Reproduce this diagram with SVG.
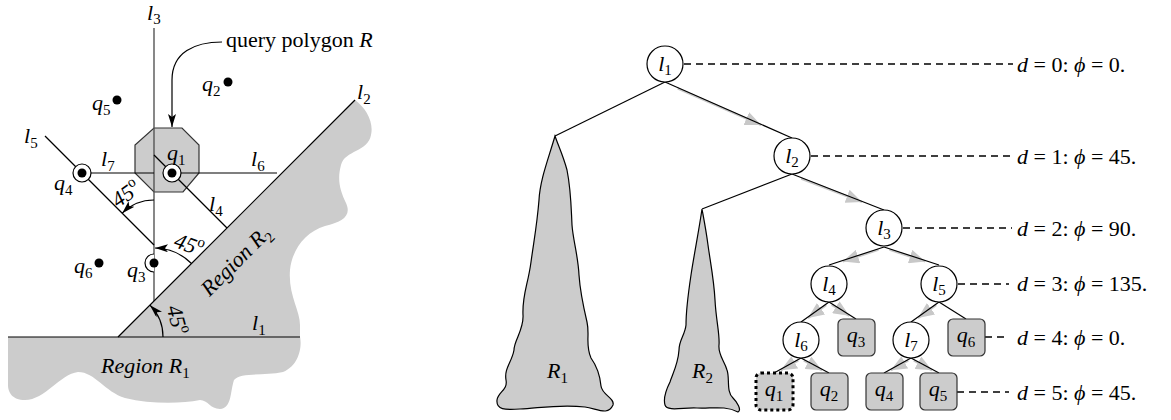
<svg xmlns="http://www.w3.org/2000/svg" width="1171" height="420" viewBox="0 0 1171 420">
<style>
text{font-family:"Liberation Serif","DejaVu Serif",serif;font-size:22px;fill:#000}
.it{font-style:italic}
.sub{font-size:15px;font-style:normal}
.region{fill:#ccc;stroke:none}
.ln{stroke:#000;stroke-width:1.2;fill:none}
.l3{stroke:#555;stroke-width:1.4;fill:none}
.edge{stroke:#000;stroke-width:1.2;fill:none}
.trav{stroke:#c8c8c8;stroke-width:2.2;fill:none;marker-end:url(#garrow)}
.node{fill:#fff;stroke:#000;stroke-width:1.2}
.leaf{fill:#ccc;stroke:#333;stroke-width:1.2}
.dash{stroke:#000;stroke-width:1.5;stroke-dasharray:7,5;fill:none}
.arc{stroke:#000;stroke-width:1.2;fill:none;marker-end:url(#barrow)}
.dot{fill:#000}
.ring{fill:#fff;stroke:#000;stroke-width:1.2}
</style>
<defs>
<marker id="garrow" markerUnits="userSpaceOnUse" markerWidth="16" markerHeight="14" viewBox="0 0 16 14" refX="16" refY="7" orient="auto">
<path d="M0,0 L16,7 L0,14 Z" fill="#c8c8c8"/>
</marker>
<marker id="barrow" markerUnits="userSpaceOnUse" markerWidth="13" markerHeight="8" viewBox="0 0 13 8" refX="13" refY="4" orient="auto">
<path d="M0,0 L13,4 L0,8 L3,4 Z" fill="#000"/>
</marker>
</defs>

<!-- LEFT FIGURE -->
<g id="regions">
<path class="region" d="M8,337 L300,337 C302,345 300,365 283,372 C265,376 240,372 234,380 C230,392 232,408 220,409 C210,409 208,400 200,400 C180,404 150,404 125,398 C105,392 95,372 78,372 C60,374 45,400 25,400 C12,400 8,392 8,385 Z"/>
<path class="region" d="M118,337 L355,100 C366,108 374,122 371,135 C368,152 345,150 341,165 C337,180 340,190 346,203 C352,216 342,222 325,226 C305,232 292,250 290,270 C288,295 300,310 300,325 L300,337 Z"/>
</g>
<g id="query-polygon">
<polygon points="154,128 182,128 199,145 199,173 183,192 154,192 135,173 135,145" fill="#ccc" stroke="#333" stroke-width="1.2"/>
</g>
<g id="lines">
<line class="l3" x1="154" y1="28" x2="154" y2="301"/>
<line class="ln" x1="8" y1="337" x2="300" y2="337"/>
<line class="ln" x1="118" y1="337" x2="355" y2="100"/>
<line class="ln" x1="172" y1="173" x2="277" y2="173"/>
<line class="ln" x1="82" y1="173" x2="154" y2="173"/>
<line class="ln" x1="154" y1="155" x2="227" y2="228"/>
<line class="ln" x1="45" y1="136" x2="154" y2="245"/>
<path class="arc" d="M222,42 C195,42 172,52 172,80 L172,127"/>
<path class="arc" d="M154,200 A45,45 0 0 0 122.2,213.2"/>
<path class="arc" d="M191.5,263.5 A53,53 0 0 0 155,248"/>
<path class="arc" d="M163,337 A45,45 0 0 0 150,305.2"/>
</g>
<g id="points">
<circle class="ring" cx="172" cy="173" r="9"/>
<circle class="dot" cx="172" cy="173" r="4.5"/>
<circle class="ring" cx="82" cy="173" r="9"/>
<circle class="dot" cx="82" cy="173" r="4.5"/>
<path d="M154,254 A9,9 0 0 0 154,272" fill="#fff" stroke="#000" stroke-width="1.2"/>
<circle class="dot" cx="154" cy="263" r="4.5"/>
<circle class="dot" cx="228" cy="82" r="4.5"/>
<circle class="dot" cx="117" cy="100" r="4.5"/>
<circle class="dot" cx="99" cy="263" r="4.5"/>
</g>
<g id="left-labels">
<text x="147" y="20"><tspan class="it">l</tspan><tspan class="sub" dy="4">3</tspan></text>
<text x="226" y="47">query polygon <tspan class="it">R</tspan></text>
<text x="202" y="91"><tspan class="it">q</tspan><tspan class="sub" dy="5">2</tspan></text>
<text x="92" y="110"><tspan class="it">q</tspan><tspan class="sub" dy="5">5</tspan></text>
<text x="357" y="99"><tspan class="it">l</tspan><tspan class="sub" dy="5">2</tspan></text>
<text x="24" y="143"><tspan class="it">l</tspan><tspan class="sub" dy="5">5</tspan></text>
<text x="101" y="166"><tspan class="it">l</tspan><tspan class="sub" dy="5">7</tspan></text>
<text x="167" y="160"><tspan class="it">q</tspan><tspan class="sub" dy="5">1</tspan></text>
<text x="251" y="166"><tspan class="it">l</tspan><tspan class="sub" dy="5">6</tspan></text>
<text x="54" y="190"><tspan class="it">q</tspan><tspan class="sub" dy="5">4</tspan></text>
<text x="209" y="211"><tspan class="it">l</tspan><tspan class="sub" dy="5">4</tspan></text>
<text x="74" y="273"><tspan class="it">q</tspan><tspan class="sub" dy="5">6</tspan></text>
<text x="127" y="277"><tspan class="it">q</tspan><tspan class="sub" dy="5">3</tspan></text>
<text x="252" y="330"><tspan class="it">l</tspan><tspan class="sub" dy="5">1</tspan></text>
<text class="it" x="101" y="373">Region R<tspan class="sub" dy="5">1</tspan></text>
<text class="it" transform="translate(236,261) rotate(-45)" x="0" y="7" text-anchor="middle">Region R<tspan class="sub" dy="5">2</tspan></text>
<text transform="translate(126,194) rotate(-35)" x="0" y="7" text-anchor="middle" class="it">45<tspan class="sub it" dy="-9">o</tspan></text>
<text transform="translate(189,245) rotate(20)" x="0" y="7" text-anchor="middle" class="it">45<tspan class="sub it" dy="-9">o</tspan></text>
<text transform="translate(177,320) rotate(75)" x="0" y="7" text-anchor="middle" class="it">45<tspan class="sub it" dy="-9">o</tspan></text>
</g>

<!-- RIGHT FIGURE: TREE -->
<g id="subtree-R1">
<path fill="#ccc" stroke="#000" stroke-width="1.2" d="M555,136 C548,160 540,180 539,200 C537,225 534,240 531,262 C528,285 522,295 523,315 C524,330 514,340 514,350 C512,362 504,368 506,380 C508,390 498,392 497,400 C496,410 505,410 520,409 C540,408 560,404 585,407 C598,409 608,416 613,405 C615,398 602,395 601,386 C600,375 596,365 591,358 C585,345 590,335 587,322 C583,305 580,290 579,275 C578,255 573,240 572,225 C571,205 571,190 567,170 C563,155 558,145 555,136 Z"/>
<text x="547" y="378"><tspan class="it">R</tspan><tspan class="sub" dy="5">1</tspan></text>
</g>
<g id="subtree-R2">
<path fill="#ccc" stroke="#000" stroke-width="1.2" d="M702,209 C699,230 694,255 691,275 C688,295 686,310 686,325 C685,335 679,340 679,350 C678,365 672,375 670,382 C666,390 663,398 665,405 C667,412 685,407 697,408 C710,409 725,405 738,412 C742,410 737,402 733,398 C726,392 730,378 727,370 C724,360 718,355 719,345 C720,335 716,320 715,300 C714,280 710,260 708,245 C706,230 704,220 702,209 Z"/>
<text x="692" y="378"><tspan class="it">R</tspan><tspan class="sub" dy="5">2</tspan></text>
</g>
<g id="connectors">
<line class="trav" x1="677.7" y1="88.6" x2="761" y2="125"/>
<line class="trav" x1="801.2" y1="178.6" x2="862" y2="202"/>
<line class="trav" x1="878.5" y1="249.8" x2="842.8" y2="261.5"/>
<line class="trav" x1="889.5" y1="249.8" x2="925.3" y2="261.5"/>
<line class="trav" x1="826.2" y1="305" x2="808" y2="318"/>
<line class="trav" x1="831.7" y1="304.7" x2="849.3" y2="315.8"/>
<line class="trav" x1="936.2" y1="305" x2="918" y2="318"/>
<line class="trav" x1="798.3" y1="360.5" x2="780.8" y2="370.3"/>
<line class="trav" x1="803.8" y1="360.5" x2="822" y2="370.3"/>
<line class="trav" x1="908.3" y1="360.5" x2="890.8" y2="370.3"/>
<line class="trav" x1="913.8" y1="360.5" x2="932" y2="370.3"/>
<line class="edge" x1="665" y1="82" x2="555" y2="136"/>
<line class="edge" x1="665" y1="82" x2="792" y2="138"/>
<line class="edge" x1="792" y1="174" x2="702" y2="209"/>
<line class="edge" x1="792" y1="174" x2="884" y2="210"/>
<line class="edge" x1="884" y1="247" x2="829" y2="265"/>
<line class="edge" x1="884" y1="247" x2="939" y2="265"/>
<line class="edge" x1="829" y1="302" x2="801" y2="322"/>
<line class="edge" x1="829" y1="302" x2="856" y2="319"/>
<line class="edge" x1="939" y1="302" x2="911" y2="322"/>
<line class="edge" x1="939" y1="302" x2="966" y2="319"/>
<line class="edge" x1="801" y1="358" x2="774" y2="373"/>
<line class="edge" x1="801" y1="358" x2="829" y2="373"/>
<line class="edge" x1="911" y1="358" x2="884" y2="373"/>
<line class="edge" x1="911" y1="358" x2="939" y2="373"/>
<line class="dash" x1="684" y1="64" x2="1013" y2="64"/>
<line class="dash" x1="811" y1="156" x2="1011" y2="156"/>
<line class="dash" x1="903" y1="228" x2="1012" y2="228"/>
<line class="dash" x1="958" y1="284" x2="1009" y2="284"/>
<line class="dash" x1="985" y1="337" x2="1009" y2="337"/>
<line class="dash" x1="957" y1="392" x2="1009" y2="392"/>
</g>
<g id="node-l1"><circle class="node" cx="665" cy="64" r="18"/><text x="665" y="71" text-anchor="middle"><tspan class="it">l</tspan><tspan class="sub" dy="4">1</tspan></text></g>
<g id="node-l2"><circle class="node" cx="792" cy="156" r="18"/><text x="792" y="163" text-anchor="middle"><tspan class="it">l</tspan><tspan class="sub" dy="4">2</tspan></text></g>
<g id="node-l3"><circle class="node" cx="884" cy="228" r="18"/><text x="884" y="235" text-anchor="middle"><tspan class="it">l</tspan><tspan class="sub" dy="4">3</tspan></text></g>
<g id="node-l4"><circle class="node" cx="829" cy="284" r="18"/><text x="829" y="291" text-anchor="middle"><tspan class="it">l</tspan><tspan class="sub" dy="4">4</tspan></text></g>
<g id="node-l5"><circle class="node" cx="939" cy="284" r="18"/><text x="939" y="291" text-anchor="middle"><tspan class="it">l</tspan><tspan class="sub" dy="4">5</tspan></text></g>
<g id="node-l6"><circle class="node" cx="801" cy="340" r="18"/><text x="801" y="347" text-anchor="middle"><tspan class="it">l</tspan><tspan class="sub" dy="4">6</tspan></text></g>
<g id="node-l7"><circle class="node" cx="911" cy="340" r="18"/><text x="911" y="347" text-anchor="middle"><tspan class="it">l</tspan><tspan class="sub" dy="4">7</tspan></text></g>
<g id="node-q3"><rect class="leaf" x="838" y="319" width="37" height="37" rx="5"/><text x="856" y="342" text-anchor="middle"><tspan class="it">q</tspan><tspan class="sub" dy="5">3</tspan></text></g>
<g id="node-q6"><rect class="leaf" x="948" y="319" width="37" height="37" rx="5"/><text x="966" y="342" text-anchor="middle"><tspan class="it">q</tspan><tspan class="sub" dy="5">6</tspan></text></g>
<g id="node-q1"><rect x="756" y="373" width="37" height="37" rx="5" fill="#ccc" stroke="#000" stroke-width="3" stroke-dasharray="3,3"/><text x="774" y="396" text-anchor="middle"><tspan class="it">q</tspan><tspan class="sub" dy="5">1</tspan></text></g>
<g id="node-q2"><rect class="leaf" x="811" y="373" width="37" height="37" rx="5"/><text x="829" y="396" text-anchor="middle"><tspan class="it">q</tspan><tspan class="sub" dy="5">2</tspan></text></g>
<g id="node-q4"><rect class="leaf" x="866" y="373" width="37" height="37" rx="5"/><text x="884" y="396" text-anchor="middle"><tspan class="it">q</tspan><tspan class="sub" dy="5">4</tspan></text></g>
<g id="node-q5"><rect class="leaf" x="920" y="373" width="37" height="37" rx="5"/><text x="938" y="396" text-anchor="middle"><tspan class="it">q</tspan><tspan class="sub" dy="5">5</tspan></text></g>
<g id="depth-labels">
<text x="1017" y="72"><tspan class="it">d</tspan> = 0: <tspan class="it">ϕ</tspan> = 0.</text>
<text x="1017" y="164"><tspan class="it">d</tspan> = 1: <tspan class="it">ϕ</tspan> = 45.</text>
<text x="1017" y="236"><tspan class="it">d</tspan> = 2: <tspan class="it">ϕ</tspan> = 90.</text>
<text x="1017" y="291"><tspan class="it">d</tspan> = 3: <tspan class="it">ϕ</tspan> = 135.</text>
<text x="1017" y="345"><tspan class="it">d</tspan> = 4: <tspan class="it">ϕ</tspan> = 0.</text>
<text x="1017" y="400"><tspan class="it">d</tspan> = 5: <tspan class="it">ϕ</tspan> = 45.</text>
</g>
</svg>
